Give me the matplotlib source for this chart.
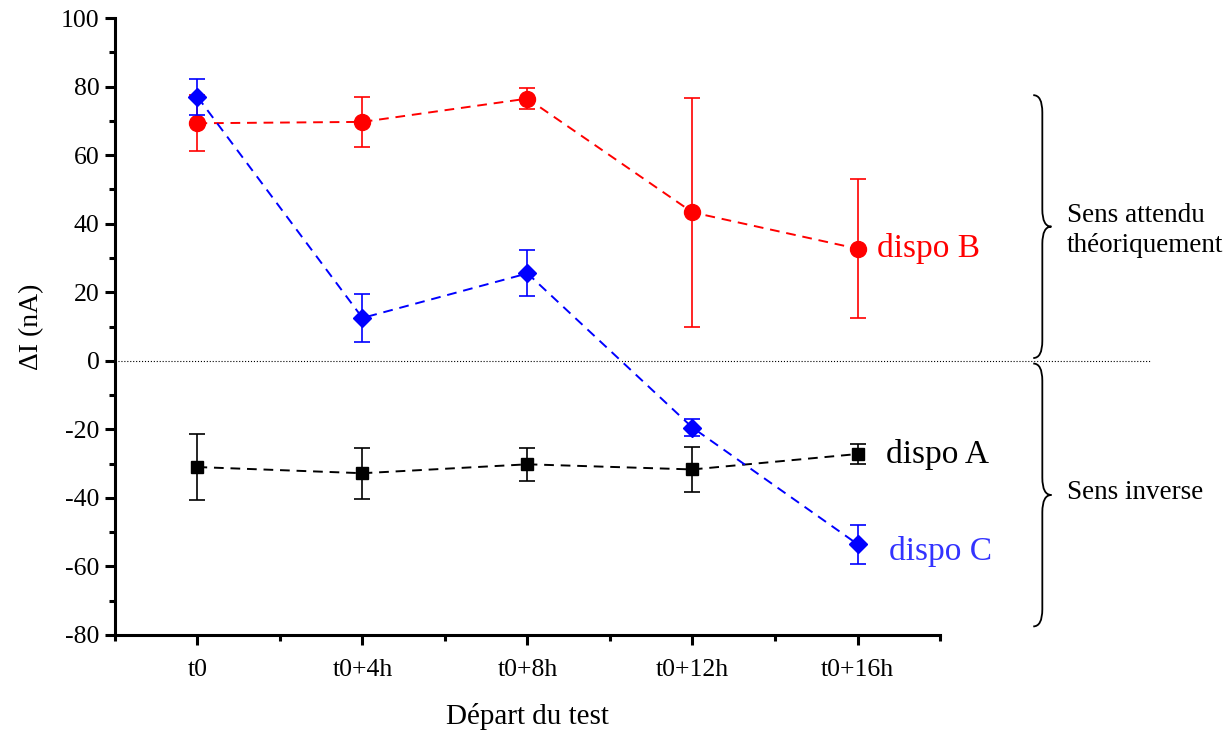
import numpy as np
import matplotlib.pyplot as plt
from matplotlib.path import Path
from matplotlib.patches import PathPatch
from matplotlib.ticker import MultipleLocator

plt.rcParams['font.family'] = ['Liberation Serif', 'DejaVu Serif']
plt.rcParams['axes.unicode_minus'] = False

# --- donnees ---
temps = ['t0', 't0+4h', 't0+8h', 't0+12h', 't0+16h']
dispo_a = [-31.0, -32.8, -30.2, -31.7, -27.2]
err_a = [9.7, 7.5, 4.8, 6.6, 3.0]
dispo_b = [69.3, 69.7, 76.5, 43.3, 32.7]
err_b = [8.2, 7.3, 3.0, 33.3, 20.2]
dispo_c = [77.0, 12.5, 25.5, -19.5, -53.5]
err_c = [5.3, 7.1, 6.7, 2.5, 5.7]

x = np.arange(len(temps))

fig = plt.figure(figsize=(12.32, 7.33), dpi=100)
ax = fig.add_axes([0.0933, 0.1337, 0.6697, 0.8417])

style = dict(linestyle=(0, (5, 3.5)), linewidth=1.4, capsize=6, elinewidth=1.2, capthick=1.2)
ax.errorbar(x, dispo_a, yerr=err_a, color='black', marker='s', markersize=8, zorder=3, **style)
ax.errorbar(x, dispo_b, yerr=err_b, color='#ff0000', marker='o', markersize=11.5, zorder=4, **style)
ax.errorbar(x, dispo_c, yerr=err_c, color='#0000ff', marker='D', markersize=9, zorder=5, **style)

# ligne zero pointillee qui depasse des axes
ax.plot([-0.5, 5.78], [0, 0], color='black', linestyle=':', linewidth=0.8, clip_on=False, zorder=1)

ax.set_xlim(-0.5, 4.5)
ax.set_ylim(-80, 100)
ax.set_xticks(x)
ax.set_xticklabels(temps)
ax.xaxis.set_minor_locator(MultipleLocator(0.5))
ax.yaxis.set_major_locator(MultipleLocator(20))
ax.yaxis.set_minor_locator(MultipleLocator(10))

for s in ['top', 'right']:
    ax.spines[s].set_visible(False)
for s in ['left', 'bottom']:
    ax.spines[s].set_linewidth(2.2)
ax.tick_params(which='major', direction='out', length=7, width=2.2, labelsize=18.5, pad=4)
ax.tick_params(which='minor', direction='out', length=4.5, width=2.2)
ax.tick_params(axis='x', which='major', pad=10)

ax.set_ylabel('ΔI (nA)', fontsize=20, labelpad=12)
ax.set_xlabel('Départ du test', fontsize=21, labelpad=16)

# etiquettes des series
ax.text(4.12, dispo_b[4], 'dispo B', color='#ff0000', fontsize=24, va='center', ha='left')
ax.text(4.17, dispo_a[4], 'dispo A', color='black', fontsize=24, va='center', ha='left')
ax.text(4.19, dispo_c[4] - 2, 'dispo C', color='#3333ff', fontsize=24, va='center', ha='left')


def accolade(ax, xb, ytop, ybot, d=0.055, r=5.0):
    ymid = (ytop + ybot) / 2
    verts = [
        (xb - d, ytop), (xb, ytop), (xb, ytop - r),
        (xb, ymid + r),
        (xb, ymid), (xb + d, ymid),
        (xb, ymid), (xb, ymid - r),
        (xb, ybot + r),
        (xb, ybot), (xb - d, ybot),
    ]
    codes = [Path.MOVETO, Path.CURVE3, Path.CURVE3, Path.LINETO,
             Path.CURVE3, Path.CURVE3, Path.CURVE3, Path.CURVE3,
             Path.LINETO, Path.CURVE3, Path.CURVE3]
    ax.add_patch(PathPatch(Path(verts, codes), facecolor='none', edgecolor='black',
                           linewidth=1.3, clip_on=False))


accolade(ax, 5.12, 77.5, 0.8)
accolade(ax, 5.12, -0.8, -77.5)

ax.text(5.27, 38, 'Sens attendu\nthéoriquement', fontsize=19.5, va='center', ha='left',
        linespacing=1.3)
ax.text(5.27, -38.5, 'Sens inverse', fontsize=19.5, va='center', ha='left')

plt.savefig('out.png', dpi=100)
